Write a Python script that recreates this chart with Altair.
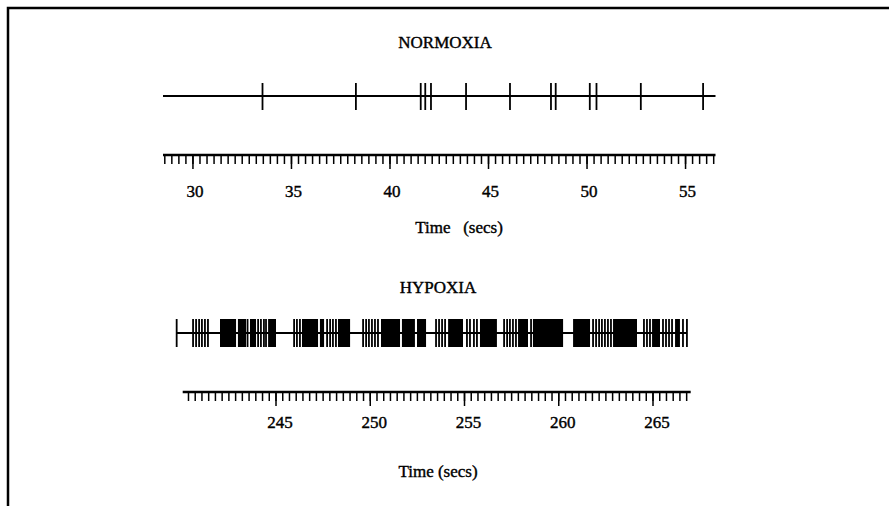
import altair as alt
import pandas as pd

# ---------------- data ----------------
norm_spikes = [33.53, 38.27, 41.56, 41.79, 42.08, 43.86, 46.09, 48.17, 48.41,
               50.14, 50.48, 52.73, 55.89]
norm_extent = [28.48, 56.52]
norm_labels = [30, 35, 40, 45, 50, 55]
norm_minor_per_5s = 14

hyp_train_extent = [239.73, 266.80]
hyp_ruler_extent = [240.05, 267.0]
hyp_labels = [245, 250, 255, 260, 265]
hyp_minor_per_5s = 14
# isolated spikes (sparse parts of the hypoxic train)
hyp_spikes = [239.73,
              240.60, 240.76, 240.92, 241.07, 241.23, 241.39,
              243.49, 244.05, 244.20, 244.36, 244.47,
              245.96, 246.11, 246.27, 247.71, 247.87, 248.02, 248.18,
              249.62, 249.78, 249.93, 250.09, 250.25, 250.41,
              253.49, 253.65, 253.81, 253.97, 255.13, 255.29, 255.50, 255.66,
              257.10, 257.26, 257.41, 257.57, 257.73, 258.53,
              261.82, 261.98, 262.14, 262.29, 262.45, 262.61, 262.77,
              264.52, 264.68, 264.84, 265.53, 265.69, 265.85, 266.01,
              266.59, 266.80]
# fused (solid black) stretches of the hypoxic train
hyp_block_start = [242.03, 242.98, 243.62, 244.58,
                   246.38, 247.33, 248.29,
                   250.57, 251.68, 252.48,
                   254.13, 255.82,
                   257.84, 258.63,
                   260.76, 262.88,
                   264.95, 266.17]
hyp_block_end = [242.88, 243.41, 243.94, 245.00,
                 247.23, 247.55, 248.93,
                 251.58, 252.37, 252.96,
                 254.92, 256.72,
                 258.37, 260.23,
                 261.66, 264.15,
                 265.37, 266.43]

FONT = "Liberation Serif"

# ---------------- helpers ----------------
def minor_ticks(labels, per5, lo, hi):
    step = 5.0 / per5
    out = []
    k = -200
    while True:
        v = labels[0] + k * step
        if v > hi + 1e-9:
            break
        if v >= lo - 1e-9:
            out.append(round(v, 4))
        k += 1
    return out


def panel(spikes, line_ext, ruler_ext, labels, per5, scale, line_y, spike_h,
          ruler_y, label_y, label_dx, blocks=None):
    x_enc = lambda f: alt.X(f, type="quantitative", scale=scale, axis=None)
    line_df = pd.DataFrame({"a": [line_ext[0]], "b": [line_ext[1]]})
    base_line = alt.Chart(line_df).mark_rule(color="black", strokeWidth=2).encode(
        x=x_enc("a"), x2="b", y=alt.value(line_y))
    sp = alt.Chart(pd.DataFrame({"t": spikes})).mark_rule(
        color="black", strokeWidth=1.8).encode(
        x=x_enc("t"), y=alt.value(line_y - spike_h[0]), y2=alt.value(line_y + spike_h[1]))
    layers = [base_line, sp]
    if blocks is not None:
        bdf = pd.DataFrame({"s": blocks[0], "e": blocks[1]})
        layers.append(alt.Chart(bdf).mark_rect(color="black").encode(
            x=x_enc("s"), x2="e",
            y=alt.value(line_y - spike_h[0]), y2=alt.value(line_y + spike_h[1])))
    rul_df = pd.DataFrame({"a": [ruler_ext[0]], "b": [ruler_ext[1]]})
    layers.append(alt.Chart(rul_df).mark_rule(color="black", strokeWidth=2.5).encode(
        x=x_enc("a"), x2="b", y=alt.value(ruler_y)))
    mt = minor_ticks(labels, per5, ruler_ext[0], ruler_ext[1])
    layers.append(alt.Chart(pd.DataFrame({"t": mt})).mark_rule(
        color="black", strokeWidth=1.5).encode(
        x=x_enc("t"), y=alt.value(ruler_y), y2=alt.value(ruler_y + 9)))
    layers.append(alt.Chart(pd.DataFrame({"t": labels})).mark_rule(
        color="black", strokeWidth=1.5).encode(
        x=x_enc("t"), y=alt.value(ruler_y), y2=alt.value(ruler_y + 14)))
    layers.append(alt.Chart(pd.DataFrame({"t": labels})).mark_text(
        font=FONT, fontSize=17, color="black", stroke="black", strokeWidth=0.4,
        baseline="middle", dx=label_dx).encode(
        x=x_enc("t"), y=alt.value(label_y), text=alt.Text("t:Q", format="d")))
    return alt.layer(*layers)


norm_scale = alt.Scale(domain=norm_extent, range=[163, 715.5], zero=False, nice=False)
hyp_scale = alt.Scale(domain=hyp_ruler_extent, range=[182.7, 690.7], zero=False, nice=False)

norm = panel(norm_spikes, norm_extent, norm_extent, norm_labels, norm_minor_per_5s,
             norm_scale, 96, (13, 14), 155, 192, 2)
hyp = panel(hyp_spikes, hyp_train_extent, hyp_ruler_extent, hyp_labels, hyp_minor_per_5s,
            hyp_scale, 333, (14, 14), 392, 423, 4,
            blocks=(hyp_block_start, hyp_block_end))

texts = pd.DataFrame({
    "txt": ["NORMOXIA", "Time\u00a0\u00a0\u00a0(secs)", "HYPOXIA", "Time (secs)"],
    "px": [445, 459, 438, 438],
    "py": [43, 228, 288, 472],
})
title_layers = []
for _, r in texts.iterrows():
    title_layers.append(
        alt.Chart(pd.DataFrame({"txt": [r.txt]})).mark_text(
            font=FONT, fontSize=17, color="black", stroke="black", strokeWidth=0.4,
            baseline="middle", align="center"
        ).encode(text="txt:N", x=alt.value(float(r.px)), y=alt.value(float(r.py))))

border = alt.Chart(pd.DataFrame({"k": [0]})).mark_rect(
    fill=None, stroke="black", strokeWidth=2.5).encode(
    x=alt.value(8), x2=alt.value(900), y=alt.value(8), y2=alt.value(520))

chart = alt.layer(norm, hyp, *title_layers, border).resolve_scale(x="independent").properties(
    width=889, height=506,
    autosize=alt.AutoSizeParams(type="none"),
    padding=0,
    background="white",
).configure_view(stroke=None)

chart.save("out.html", embed_options={"renderer": "svg", "actions": False})
